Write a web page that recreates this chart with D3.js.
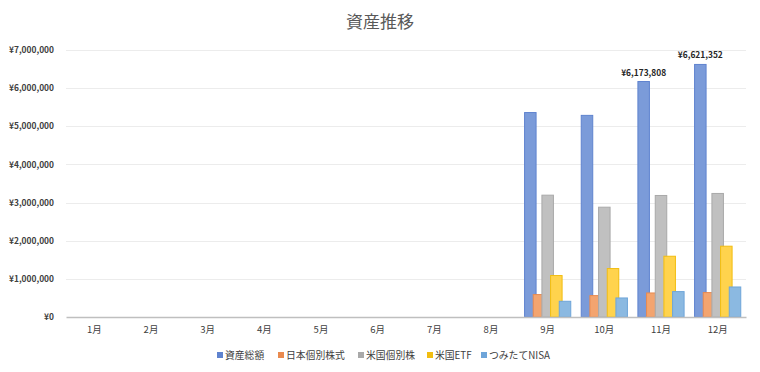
<!DOCTYPE html>
<html><head><meta charset="utf-8">
<script src="https://cdn.jsdelivr.net/npm/d3@7"></script>
<style>
body{margin:0;background:#fff;}
text{font-family:"Noto Sans CJK JP","Noto Sans",sans-serif;}
</style></head>
<body><svg id="c" width="760" height="372"></svg>
<script>
const months = ["1月","2月","3月","4月","5月","6月","7月","8月","9月","10月","11月","12月"];
const seriesNames = ["資産総額","日本個別株式","米国個別株","米国ETF","つみたてNISA"];
const totalAssets = [null,null,null,null,null,null,null,null,5360000,5286000,6173808,6621352];
const jpStocks    = [null,null,null,null,null,null,null,null,588000,561000,630000,640000];
const usStocks    = [null,null,null,null,null,null,null,null,3194000,2879000,3186000,3239000];
const usETF       = [null,null,null,null,null,null,null,null,1087000,1270000,1593000,1856000];
const tsumitate   = [null,null,null,null,null,null,null,null,412000,499000,666000,787000];
const labeled = {"11月":6173808,"12月":6621352};
const yTicks = [0,1000000,2000000,3000000,4000000,5000000,6000000,7000000];

const allSeries = [totalAssets,jpStocks,usStocks,usETF,tsumitate];
const fills   = ["#7b9bd9","#f3a46f","#c0c0c0","#ffd34d","#8bb9e1"];
const strokes = ["#5f83cf","#e98a4f","#a9a9a9","#f2bd10","#6ea5d9"];

const svg = d3.select("#c");
const L=66, R=746, T=50, B=317;
const x = d3.scaleBand().domain(months).range([L,R]).padding(0);
const y = d3.scaleLinear().domain([0,7000000]).range([B,T]);
const fmt = v => "¥" + d3.format(",")(v);

svg.append("text").attr("x",380).attr("y",28).attr("text-anchor","middle")
  .attr("font-size",17).attr("fill","#595959").text("資産推移");

// gridlines
svg.append("g").selectAll("line").data(yTicks.slice(1)).join("line")
  .attr("x1",L).attr("x2",R).attr("y1",d=>Math.round(y(d))+0.5).attr("y2",d=>Math.round(y(d))+0.5)
  .attr("stroke","#ececec").attr("stroke-width",1);

// y axis labels
const ya = svg.append("g").attr("transform",`translate(${L},0)`)
  .call(d3.axisLeft(y).tickValues(yTicks).tickFormat(fmt).tickSize(0).tickPadding(12));
ya.select(".domain").remove();
ya.selectAll("text").attr("font-size",8.4).attr("fill","#404040").attr("font-weight","bold")
  .attr("font-family","'Liberation Sans',sans-serif");

// bars
const bw = x.bandwidth();
const barW = bw*0.203, step = bw*0.153;
const groupW = step*4 + barW;
allSeries.forEach((arr,si)=>{
  svg.append("g").selectAll("rect")
    .data(months.map((m,i)=>({m,v:arr[i]})).filter(d=>d.v!=null))
    .join("rect")
    .attr("x",d=>x(d.m)+bw/2-groupW/2+si*step)
    .attr("y",d=>y(d.v))
    .attr("width",barW)
    .attr("height",d=>y(0)-y(d.v))
    .attr("fill",fills[si]).attr("stroke",strokes[si]).attr("stroke-width",1);
});

// data labels
Object.entries(labeled).forEach(([m,v])=>{
  svg.append("text").attr("x",x(m)+bw/2-groupW/2+barW/2).attr("y",y(v)-6)
    .attr("text-anchor","middle").attr("font-size",8.4).attr("font-weight","bold")
    .attr("font-family","'Liberation Sans',sans-serif").attr("fill","#262626").text(fmt(v));
});

// x axis
const xa = svg.append("g").attr("transform",`translate(0,${B})`)
  .call(d3.axisBottom(x).tickSize(0).tickPadding(9));
xa.select(".domain").attr("stroke","#bfbfbf").attr("stroke-width",1.3);
xa.selectAll("text").attr("font-size",9.5).attr("fill","#404040");

// legend
const legX = [217,278,358,427,481];
const lg = svg.append("g");
seriesNames.forEach((n,i)=>{
  lg.append("rect").attr("x",legX[i]).attr("y",352).attr("width",6).attr("height",6).attr("fill",strokes[i]);
  lg.append("text").attr("x",legX[i]+8).attr("y",359).attr("font-size",9.8).attr("fill","#404040").text(n);
});
</script></body></html>
